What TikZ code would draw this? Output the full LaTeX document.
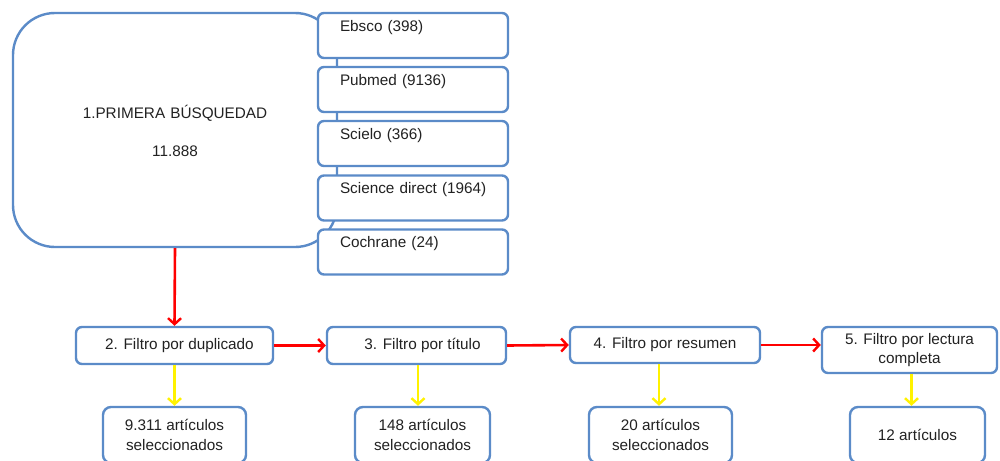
\documentclass[tikz,border=0pt]{standalone}
\usepackage{fontspec}
\setmainfont{Liberation Sans}
\usetikzlibrary{arrows.meta}
\definecolor{boxblue}{HTML}{5B8BC8}
\definecolor{txt}{HTML}{222222}
\newcommand{\dbind}{\hspace*{11pt}}
\begin{document}
\begin{tikzpicture}[x=1pt,y=-1pt,
  every node/.style={font=\fontsize{15.3}{19.5}\selectfont, text=txt},
  bigbox/.style={draw=boxblue, line width=2.4pt, rounded corners=42pt, fill=white, inner sep=0pt},
  dbbox/.style={draw=boxblue, line width=2.4pt, rounded corners=6pt, fill=white, minimum width=190pt, minimum height=45pt, text width=168pt, align=left, inner sep=0pt},
  flbox/.style={draw=boxblue, line width=2.4pt, rounded corners=6pt, fill=white, align=center, inner sep=0pt},
  resbox/.style={draw=boxblue, line width=2.4pt, rounded corners=8pt, fill=white, align=center, inner sep=0pt, minimum height=56pt},
  redarr/.style={draw=red, line width=2.6pt, -{Straight Barb[length=6pt,width=13pt,line width=2.4pt]}},
  yelarr/.style={draw=yellow, line width=2.6pt, -{Straight Barb[length=6pt,width=13pt,line width=2.4pt]}}
]
\clip (0,0) rectangle (1000,460);
\fill[white] (0,0) rectangle (1000,460);

\node[bigbox, minimum width=324pt, minimum height=234pt] (big) at (175,130) {};
\node (bigtxt) at (175,131) [align=center, text width=300pt] {1.PRIMERA BÚSQUEDAD\\[18pt]11.888};

\node[dbbox] (ebsco) at (413,35.5) {\dbind Ebsco (398)\\\mbox{}};
\node[dbbox] (pubmed) at (413,89.5) {\dbind Pubmed (9136)\\\mbox{}};
\node[dbbox] (scielo) at (413,143.5) {\dbind Scielo (366)\\\mbox{}};
\node[dbbox] (scidir) at (413,198) {\dbind Science direct (1964)\\\mbox{}};
\node[dbbox] (cochrane) at (413,252) {\dbind Cochrane (24)\\\mbox{}};

\node[flbox, minimum width=197pt, minimum height=37pt] (b2) at (174.5,345.5) {\hspace*{10pt}2. Filtro por duplicado};
\node[flbox, minimum width=179pt, minimum height=37pt] (b3) at (416.5,345.5) {\hspace*{12pt}3. Filtro por título};
\node[flbox, minimum width=190pt, minimum height=36pt] (b4) at (665,345) {4. Filtro por resumen};
\node[flbox, minimum width=175pt, minimum height=46pt] (b5) at (909.5,350) {5. Filtro por lectura\\completa};

\node[resbox, minimum width=143pt] (r2) at (174.5,435) {9.311 artículos\\seleccionados};
\node[resbox, minimum width=135pt] (r3) at (422.5,435) {148 artículos\\seleccionados};
\node[resbox, minimum width=143pt] (r4) at (660.5,435) {20 artículos\\seleccionados};
\node[resbox, minimum width=135pt] (r5) at (917.5,435) {12 artículos};

\draw[redarr] (big.south) -- (b2.north);
\draw[redarr] (b2.east) -- (b3.west);
\draw[redarr] (b3.east) -- (b4.west);
\draw[redarr] (b4.east) -- (b4.east -| b5.west);

\draw[yelarr] (b2.south) -- (b2.south |- r2.north);
\draw[yelarr] ([xshift=1.5pt]b3.south) -- ([xshift=1.5pt]b3.south |- r3.north);
\draw[yelarr] ([xshift=-6pt]b4.south) -- ([xshift=-6pt]b4.south |- r4.north);
\draw[yelarr] ([xshift=2pt]b5.south) -- ([xshift=2pt]b5.south |- r5.north);
\end{tikzpicture}
\end{document}
